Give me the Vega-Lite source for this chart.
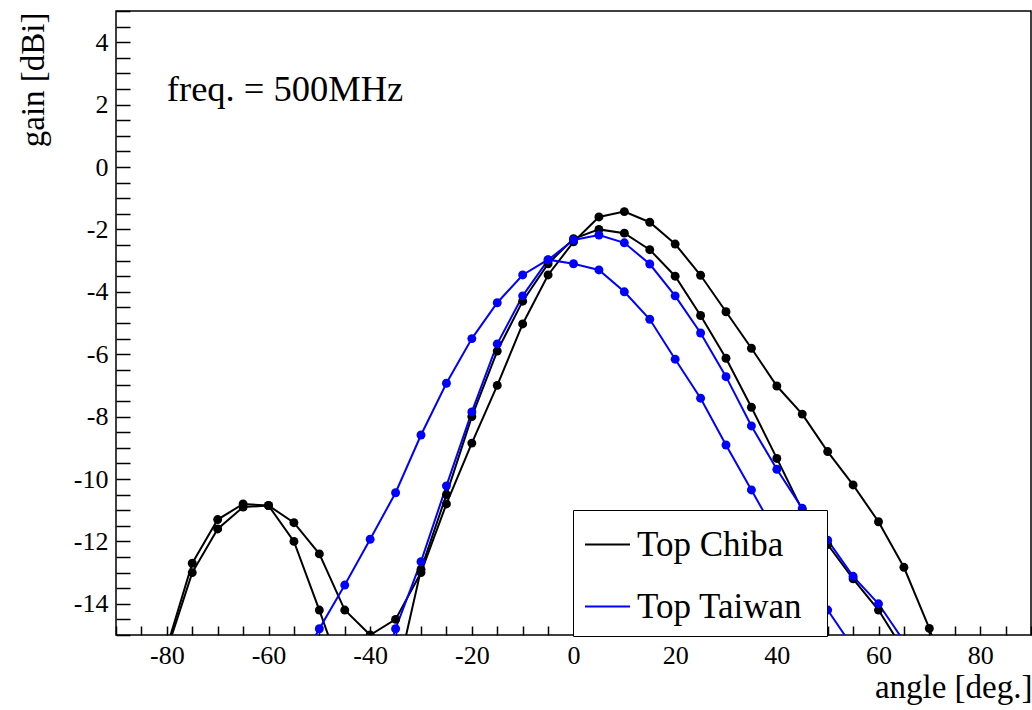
{
  "$schema": "https://vega.github.io/schema/vega-lite/v6.json",
  "width": 915,
  "height": 624,
  "autosize": "none",
  "padding": {"left": 116, "top": 11, "right": 1, "bottom": 75},
  "background": "white",
  "config": {
    "view": {"stroke": "#000", "strokeWidth": 1.5},
    "font": "Liberation Serif"
  },
  "datasets": {
    "curves": [
      {"series": "Chiba A", "site": "Top Chiba", "angle": -80, "gain": -15.4},
      {"series": "Chiba A", "site": "Top Chiba", "angle": -75, "gain": -12.7},
      {"series": "Chiba A", "site": "Top Chiba", "angle": -70, "gain": -11.3},
      {"series": "Chiba A", "site": "Top Chiba", "angle": -65, "gain": -10.8},
      {"series": "Chiba A", "site": "Top Chiba", "angle": -60, "gain": -10.85},
      {"series": "Chiba A", "site": "Top Chiba", "angle": -55, "gain": -11.4},
      {"series": "Chiba A", "site": "Top Chiba", "angle": -50, "gain": -12.4},
      {"series": "Chiba A", "site": "Top Chiba", "angle": -45, "gain": -14.2},
      {"series": "Chiba A", "site": "Top Chiba", "angle": -40, "gain": -15.0},
      {"series": "Chiba A", "site": "Top Chiba", "angle": -35, "gain": -14.5},
      {"series": "Chiba A", "site": "Top Chiba", "angle": -30, "gain": -13.0},
      {"series": "Chiba A", "site": "Top Chiba", "angle": -25, "gain": -10.8},
      {"series": "Chiba A", "site": "Top Chiba", "angle": -20, "gain": -8.85},
      {"series": "Chiba A", "site": "Top Chiba", "angle": -15, "gain": -7.0},
      {"series": "Chiba A", "site": "Top Chiba", "angle": -10, "gain": -5.03},
      {"series": "Chiba A", "site": "Top Chiba", "angle": -5, "gain": -3.46},
      {"series": "Chiba A", "site": "Top Chiba", "angle": 0, "gain": -2.4},
      {"series": "Chiba A", "site": "Top Chiba", "angle": 5, "gain": -1.6},
      {"series": "Chiba A", "site": "Top Chiba", "angle": 10, "gain": -1.43},
      {"series": "Chiba A", "site": "Top Chiba", "angle": 15, "gain": -1.77},
      {"series": "Chiba A", "site": "Top Chiba", "angle": 20, "gain": -2.47},
      {"series": "Chiba A", "site": "Top Chiba", "angle": 25, "gain": -3.47},
      {"series": "Chiba A", "site": "Top Chiba", "angle": 30, "gain": -4.64},
      {"series": "Chiba A", "site": "Top Chiba", "angle": 35, "gain": -5.81},
      {"series": "Chiba A", "site": "Top Chiba", "angle": 40, "gain": -7.02},
      {"series": "Chiba A", "site": "Top Chiba", "angle": 45, "gain": -7.92},
      {"series": "Chiba A", "site": "Top Chiba", "angle": 50, "gain": -9.12},
      {"series": "Chiba A", "site": "Top Chiba", "angle": 55, "gain": -10.19},
      {"series": "Chiba A", "site": "Top Chiba", "angle": 60, "gain": -11.37},
      {"series": "Chiba A", "site": "Top Chiba", "angle": 65, "gain": -12.83},
      {"series": "Chiba A", "site": "Top Chiba", "angle": 70, "gain": -14.79},
      {"series": "Chiba A", "site": "Top Chiba", "angle": 75, "gain": -17.2},
      {"series": "Chiba B", "site": "Top Chiba", "angle": -80, "gain": -15.5},
      {"series": "Chiba B", "site": "Top Chiba", "angle": -75, "gain": -13.0},
      {"series": "Chiba B", "site": "Top Chiba", "angle": -70, "gain": -11.6},
      {"series": "Chiba B", "site": "Top Chiba", "angle": -65, "gain": -10.9},
      {"series": "Chiba B", "site": "Top Chiba", "angle": -60, "gain": -10.85},
      {"series": "Chiba B", "site": "Top Chiba", "angle": -55, "gain": -12.0},
      {"series": "Chiba B", "site": "Top Chiba", "angle": -50, "gain": -14.2},
      {"series": "Chiba B", "site": "Top Chiba", "angle": -45, "gain": -16.5},
      {"series": "Chiba B", "site": "Top Chiba", "angle": -40, "gain": -18.0},
      {"series": "Chiba B", "site": "Top Chiba", "angle": -35, "gain": -16.5},
      {"series": "Chiba B", "site": "Top Chiba", "angle": -30, "gain": -12.9},
      {"series": "Chiba B", "site": "Top Chiba", "angle": -25, "gain": -10.5},
      {"series": "Chiba B", "site": "Top Chiba", "angle": -20, "gain": -8.0},
      {"series": "Chiba B", "site": "Top Chiba", "angle": -15, "gain": -5.9},
      {"series": "Chiba B", "site": "Top Chiba", "angle": -10, "gain": -4.3},
      {"series": "Chiba B", "site": "Top Chiba", "angle": -5, "gain": -3.1},
      {"series": "Chiba B", "site": "Top Chiba", "angle": 0, "gain": -2.3},
      {"series": "Chiba B", "site": "Top Chiba", "angle": 5, "gain": -2.0},
      {"series": "Chiba B", "site": "Top Chiba", "angle": 10, "gain": -2.12},
      {"series": "Chiba B", "site": "Top Chiba", "angle": 15, "gain": -2.65},
      {"series": "Chiba B", "site": "Top Chiba", "angle": 20, "gain": -3.5},
      {"series": "Chiba B", "site": "Top Chiba", "angle": 25, "gain": -4.76},
      {"series": "Chiba B", "site": "Top Chiba", "angle": 30, "gain": -6.13},
      {"series": "Chiba B", "site": "Top Chiba", "angle": 35, "gain": -7.7},
      {"series": "Chiba B", "site": "Top Chiba", "angle": 40, "gain": -9.34},
      {"series": "Chiba B", "site": "Top Chiba", "angle": 45, "gain": -11.0},
      {"series": "Chiba B", "site": "Top Chiba", "angle": 50, "gain": -12.1},
      {"series": "Chiba B", "site": "Top Chiba", "angle": 55, "gain": -13.2},
      {"series": "Chiba B", "site": "Top Chiba", "angle": 60, "gain": -14.2},
      {"series": "Chiba B", "site": "Top Chiba", "angle": 65, "gain": -15.5},
      {"series": "Taiwan A", "site": "Top Taiwan", "angle": -55, "gain": -16.3},
      {"series": "Taiwan A", "site": "Top Taiwan", "angle": -50, "gain": -14.8},
      {"series": "Taiwan A", "site": "Top Taiwan", "angle": -45, "gain": -13.4},
      {"series": "Taiwan A", "site": "Top Taiwan", "angle": -40, "gain": -11.93},
      {"series": "Taiwan A", "site": "Top Taiwan", "angle": -35, "gain": -10.44},
      {"series": "Taiwan A", "site": "Top Taiwan", "angle": -30, "gain": -8.59},
      {"series": "Taiwan A", "site": "Top Taiwan", "angle": -25, "gain": -6.93},
      {"series": "Taiwan A", "site": "Top Taiwan", "angle": -20, "gain": -5.5},
      {"series": "Taiwan A", "site": "Top Taiwan", "angle": -15, "gain": -4.35},
      {"series": "Taiwan A", "site": "Top Taiwan", "angle": -10, "gain": -3.46},
      {"series": "Taiwan A", "site": "Top Taiwan", "angle": -5, "gain": -2.97},
      {"series": "Taiwan A", "site": "Top Taiwan", "angle": 0, "gain": -3.1},
      {"series": "Taiwan A", "site": "Top Taiwan", "angle": 5, "gain": -3.3},
      {"series": "Taiwan A", "site": "Top Taiwan", "angle": 10, "gain": -4.0},
      {"series": "Taiwan A", "site": "Top Taiwan", "angle": 15, "gain": -4.88},
      {"series": "Taiwan A", "site": "Top Taiwan", "angle": 20, "gain": -6.16},
      {"series": "Taiwan A", "site": "Top Taiwan", "angle": 25, "gain": -7.41},
      {"series": "Taiwan A", "site": "Top Taiwan", "angle": 30, "gain": -8.91},
      {"series": "Taiwan A", "site": "Top Taiwan", "angle": 35, "gain": -10.35},
      {"series": "Taiwan A", "site": "Top Taiwan", "angle": 40, "gain": -11.8},
      {"series": "Taiwan A", "site": "Top Taiwan", "angle": 45, "gain": -13.0},
      {"series": "Taiwan A", "site": "Top Taiwan", "angle": 50, "gain": -14.2},
      {"series": "Taiwan A", "site": "Top Taiwan", "angle": 55, "gain": -15.4},
      {"series": "Taiwan B", "site": "Top Taiwan", "angle": -40, "gain": -17.5},
      {"series": "Taiwan B", "site": "Top Taiwan", "angle": -35, "gain": -14.8},
      {"series": "Taiwan B", "site": "Top Taiwan", "angle": -30, "gain": -12.65},
      {"series": "Taiwan B", "site": "Top Taiwan", "angle": -25, "gain": -10.22},
      {"series": "Taiwan B", "site": "Top Taiwan", "angle": -20, "gain": -7.85},
      {"series": "Taiwan B", "site": "Top Taiwan", "angle": -15, "gain": -5.67},
      {"series": "Taiwan B", "site": "Top Taiwan", "angle": -10, "gain": -4.13},
      {"series": "Taiwan B", "site": "Top Taiwan", "angle": -5, "gain": -2.98},
      {"series": "Taiwan B", "site": "Top Taiwan", "angle": 0, "gain": -2.34},
      {"series": "Taiwan B", "site": "Top Taiwan", "angle": 5, "gain": -2.18},
      {"series": "Taiwan B", "site": "Top Taiwan", "angle": 10, "gain": -2.43},
      {"series": "Taiwan B", "site": "Top Taiwan", "angle": 15, "gain": -3.11},
      {"series": "Taiwan B", "site": "Top Taiwan", "angle": 20, "gain": -4.13},
      {"series": "Taiwan B", "site": "Top Taiwan", "angle": 25, "gain": -5.32},
      {"series": "Taiwan B", "site": "Top Taiwan", "angle": 30, "gain": -6.72},
      {"series": "Taiwan B", "site": "Top Taiwan", "angle": 35, "gain": -8.3},
      {"series": "Taiwan B", "site": "Top Taiwan", "angle": 40, "gain": -9.69},
      {"series": "Taiwan B", "site": "Top Taiwan", "angle": 45, "gain": -10.94},
      {"series": "Taiwan B", "site": "Top Taiwan", "angle": 50, "gain": -11.96},
      {"series": "Taiwan B", "site": "Top Taiwan", "angle": 55, "gain": -13.12},
      {"series": "Taiwan B", "site": "Top Taiwan", "angle": 60, "gain": -14.0},
      {"series": "Taiwan B", "site": "Top Taiwan", "angle": 65, "gain": -15.2}
    ]
  },
  "encoding": {
    "x": {
      "field": "angle",
      "type": "quantitative",
      "scale": {"domain": [-90, 90], "nice": false, "zero": false},
      "axis": {
        "values": [-90,-85,-80,-75,-70,-65,-60,-55,-50,-45,-40,-35,-30,-25,-20,-15,-10,-5,0,5,10,15,20,25,30,35,40,45,50,55,60,65,70,75,80,85,90],
        "labelExpr": "datum.value % 20 === 0 ? '' + datum.value : ''",
        "grid": false,
        "domain": false,
        "ticks": true,
        "tickSize": -9,
        "tickColor": "#000",
        "tickWidth": 1.5,
        "labelFont": "Liberation Serif",
        "labelFontSize": 26,
        "labelColor": "#000",
        "labelPadding": 16,
        "labelBaseline": "top",
        "labelFlush": false,
        "labelOverlap": false,
        "encode": {"ticks": {"update": {"y2": {"signal": "datum.value % 20 === 0 ? -19 : -9"}}}},
        "title": "angle [deg.]",
        "titleFont": "Liberation Serif",
        "titleFontSize": 33,
        "titleFontWeight": "normal",
        "titleColor": "#000",
        "titleX": 916,
        "titleY": 62,
        "titleAlign": "right",
        "titleBaseline": "alphabetic"
      }
    },
    "y": {
      "field": "gain",
      "type": "quantitative",
      "scale": {"domain": [-15, 5], "nice": false, "zero": false},
      "axis": {
        "values": [-15,-14.5,-14,-13.5,-13,-12.5,-12,-11.5,-11,-10.5,-10,-9.5,-9,-8.5,-8,-7.5,-7,-6.5,-6,-5.5,-5,-4.5,-4,-3.5,-3,-2.5,-2,-1.5,-1,-0.5,0,0.5,1,1.5,2,2.5,3,3.5,4,4.5,5],
        "labelExpr": "datum.value % 2 === 0 ? '' + datum.value : ''",
        "grid": false,
        "domain": false,
        "ticks": true,
        "tickSize": -14,
        "tickColor": "#000",
        "tickWidth": 1.5,
        "labelFont": "Liberation Serif",
        "labelFontSize": 26,
        "labelColor": "#000",
        "labelPadding": 22,
        "labelBaseline": "middle",
        "labelFlush": false,
        "labelOverlap": false,
        "encode": {"ticks": {"update": {"x2": {"signal": "datum.value % 2 === 0 ? 28 : 14"}}}},
        "title": "gain [dBi]",
        "titleFont": "Liberation Serif",
        "titleFontSize": 33,
        "titleFontWeight": "normal",
        "titleColor": "#000",
        "titleAngle": 270,
        "titleX": -83,
        "titleY": 1,
        "titleAlign": "right",
        "titleBaseline": "middle"
      }
    }
  },
  "layer": [
    {
      "data": {"name": "curves"},
      "mark": {"type": "line", "clip": true, "strokeWidth": 2},
      "encoding": {
        "color": {
          "field": "site",
          "type": "nominal",
          "scale": {"domain": ["Top Chiba", "Top Taiwan"], "range": ["#000000", "#0000ff"]},
          "legend": {
            "orient": "none",
            "legendX": 457,
            "legendY": 499,
            "title": "\u00a0",
            "titleOrient": "right",
            "titleFontSize": 1,
            "titlePadding": 14,
            "symbolType": "stroke",
            "symbolSize": 2025,
            "symbolStrokeWidth": 2,
            "labelFont": "Liberation Serif",
            "labelFontSize": 35,
            "labelColor": "#000",
            "labelOffset": 6,
            "labelLimit": 400,
            "rowPadding": 20,
            "padding": 11,
            "strokeColor": "#000",
            "fillColor": "white"
          }
        },
        "detail": {"field": "series"}
      }
    },
    {
      "data": {"name": "curves"},
      "mark": {"type": "point", "filled": true, "size": 80, "opacity": 1, "clip": true},
      "encoding": {
        "color": {"field": "site", "type": "nominal"},
        "detail": {"field": "series"}
      }
    },
    {
      "data": {"values": [{"angle": -80, "gain": 2.1, "label": "freq. = 500MHz"}]},
      "mark": {"type": "text", "align": "left", "baseline": "alphabetic", "fontSize": 36.5, "font": "Liberation Serif", "color": "#000"},
      "encoding": {"text": {"field": "label"}}
    }
  ]
}
